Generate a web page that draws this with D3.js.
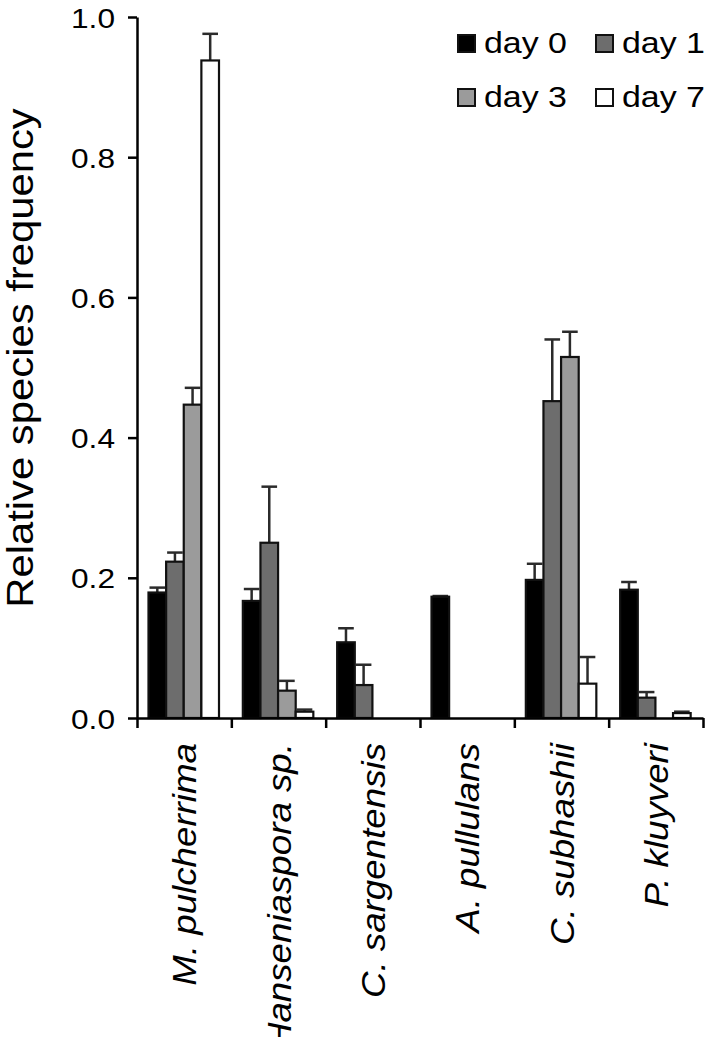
<!DOCTYPE html>
<html>
<head>
<meta charset="utf-8">
<script src="https://cdnjs.cloudflare.com/ajax/libs/d3/7.8.5/d3.min.js"></script>
<style>
  html, body { margin: 0; padding: 0; background: #fff; }
  svg { display: block; font-family: "Liberation Sans", Arial, sans-serif; }
</style>
</head>
<body>
<svg id="viz-container" width="709" height="1037"></svg>
<script>
var species = ["M. pulcherrima", "Hanseniaspora sp.", "C. sargentensis", "A. pullulans", "C. subhashii", "P. kluyveri"];
var days = ["day 0", "day 1", "day 3", "day 7"];
var day0 = [0.179, 0.167, 0.108, 0.173, 0.197, 0.183];
var day1 = [0.223, 0.250, 0.047, 0, 0.452, 0.029];
var day3 = [0.447, 0.039, 0, 0, 0.515, 0];
var day7 = [0.938, 0.009, 0, 0, 0.049, 0.007];
// upper error (SD) above each bar
var day0Err = [0.007, 0.017, 0.020, 0.001, 0.023, 0.011];
var day1Err = [0.013, 0.080, 0.029, 0, 0.088, 0.008];
var day3Err = [0.024, 0.014, 0, 0, 0.036, 0];
var day7Err = [0.038, 0.003, 0, 0, 0.038, 0.002];
var yTicks = [0, 0.2, 0.4, 0.6, 0.8, 1.0];

var series = [day0, day1, day3, day7]
  , errors = [day0Err, day1Err, day3Err, day7Err]
  , fills = ["#000000", "#6d6d6d", "#9b9b9b", "#ffffff"];

var plotLeft = 137, plotRight = 703, plotTop = 17, plotBottom = 718
  , stretch = 1.13;

var svg = d3.select("#viz-container");

var x0 = d3.scaleBand().domain(species).range([plotLeft, plotRight]).padding(0);
var x1 = d3.scaleBand().domain(days).range([11.5, 82]).padding(0);
var y = d3.scaleLinear().domain([0, 1]).range([plotBottom, plotTop]);
var color = d3.scaleOrdinal().domain(days).range(fills);

// flatten into one record per bar
var bars = [];
species.forEach(function(s, i) {
  days.forEach(function(d, j) {
    bars.push({ species: s, day: d, value: series[j][i], err: errors[j][i] });
  });
});
var shown = bars.filter(function(b) { return b.value > 0; });

var bar_g = svg.append("g").classed("bars", true);

// error bars (upper only), drawn under the bars
var err_g = bar_g.selectAll("g.err")
    .data(shown.filter(function(b) { return b.err > 0; }))
  .enter().append("g")
    .classed("err", true)
    .attr("stroke", "#2b2b2b")
    .attr("stroke-width", 2.5);
err_g.append("line")
    .attr("x1", function(b) { return x0(b.species) + x1(b.day) + x1.bandwidth() / 2; })
    .attr("x2", function(b) { return x0(b.species) + x1(b.day) + x1.bandwidth() / 2; })
    .attr("y1", function(b) { return y(b.value); })
    .attr("y2", function(b) { return y(b.value + b.err); });
err_g.append("line")
    .attr("x1", function(b) { return x0(b.species) + x1(b.day) + 1; })
    .attr("x2", function(b) { return x0(b.species) + x1(b.day) + x1.bandwidth() - 1; })
    .attr("y1", function(b) { return y(b.value + b.err); })
    .attr("y2", function(b) { return y(b.value + b.err); });

bar_g.selectAll("rect")
    .data(shown)
  .enter().append("rect")
    .attr("x", function(b) { return x0(b.species) + x1(b.day); })
    .attr("y", function(b) { return y(b.value); })
    .attr("width", x1.bandwidth())
    .attr("height", function(b) { return y(0) - y(b.value); })
    .attr("fill", function(b) { return color(b.day); })
    .attr("stroke", "#111")
    .attr("stroke-width", 2.2);

// y axis
var y_axis = svg.append("g")
    .attr("transform", "translate(" + plotLeft + ",0)")
    .call(d3.axisLeft(y).tickValues(yTicks).tickFormat(d3.format(".1f")).tickSize(9).tickSizeOuter(0));
y_axis.select(".domain").attr("stroke", "#000").attr("stroke-width", 2.5);
y_axis.selectAll(".tick line").attr("stroke", "#000").attr("stroke-width", 2.5);
y_axis.selectAll(".tick text")
    .attr("x", 0)
    .attr("dy", "0.358em")
    .attr("transform", "translate(-22,0) scale(" + stretch + ",1)")
    .attr("fill", "#000")
    .style("font-size", "28px")
    .style("font-family", "'Liberation Sans', Arial, sans-serif");

// x axis: ticks at the category boundaries
var xb = d3.scaleLinear().domain([0, species.length]).range([plotLeft, plotRight]);
var x_axis = svg.append("g")
    .attr("transform", "translate(0," + plotBottom + ")")
    .call(d3.axisBottom(xb).tickValues(d3.range(species.length + 1)).tickFormat("").tickSize(10).tickSizeOuter(0));
x_axis.select(".domain").attr("stroke", "#000").attr("stroke-width", 2.5);
x_axis.selectAll(".tick line").attr("stroke", "#000").attr("stroke-width", 2.5);

// species labels, rotated
var lab_axis = svg.append("g")
    .attr("transform", "translate(0," + plotBottom + ")")
    .call(d3.axisBottom(x0).tickSize(0));
lab_axis.select(".domain").remove();
lab_axis.selectAll(".tick text")
    .attr("x", 0)
    .attr("y", 0)
    .attr("dy", 0)
    .attr("transform", "translate(12,25) rotate(-90) scale(1.08,1)")
    .attr("text-anchor", "end")
    .attr("fill", "#000")
    .style("font-size", "34px")
    .style("font-style", "italic")
    .style("font-family", "'Liberation Sans', Arial, sans-serif");

svg.append("text")
    .attr("transform", "translate(33,358) rotate(-90) scale(" + stretch + ",1)")
    .attr("text-anchor", "middle")
    .style("font-size", "37px")
    .text("Relative species frequency");

// legend, two rows of two
var legend = svg.append("g").classed("legend", true);
var leg_item = legend.selectAll("g")
    .data(days)
  .enter().append("g")
    .attr("transform", function(d, i) {
      var lx = (i % 2 == 0) ? 457 : 595
        , ly = (i < 2) ? 53 : 107;
      return "translate(" + lx + "," + ly + ")";
    });
leg_item.append("rect")
    .attr("x", 1)
    .attr("y", -18)
    .attr("width", 17)
    .attr("height", 17)
    .attr("fill", function(d) { return color(d); })
    .attr("stroke", "#111")
    .attr("stroke-width", 2);
leg_item.append("text")
    .attr("transform", "translate(27,0) scale(1.17,1)")
    .style("font-size", "29px")
    .text(function(d) { return d; });
</script>
</body>
</html>
